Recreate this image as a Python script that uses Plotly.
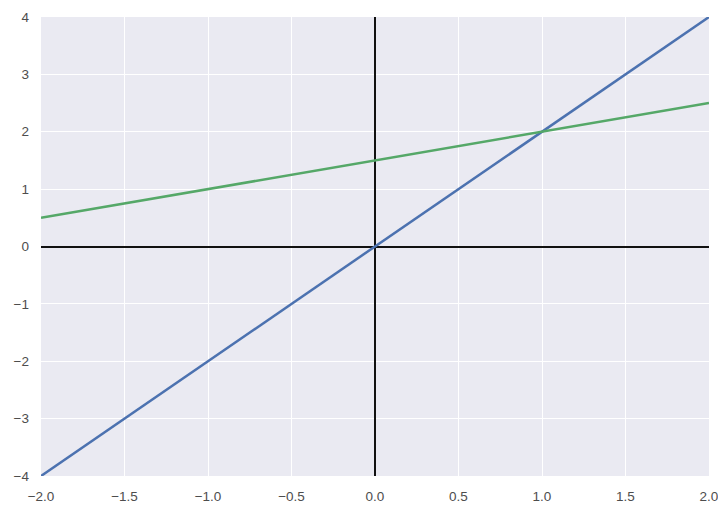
import plotly.graph_objects as go

x_vals = [-2.0, 2.0]
blue_y = [-4.0, 4.0]
green_y = [0.5, 2.5]
x_ticks = [-2.0, -1.5, -1.0, -0.5, 0.0, 0.5, 1.0, 1.5, 2.0]
x_tick_labels = ["\u22122.0", "\u22121.5", "\u22121.0", "\u22120.5", "0.0", "0.5", "1.0", "1.5", "2.0"]
y_ticks = [-4, -3, -2, -1, 0, 1, 2, 3, 4]
y_tick_labels = ["\u22124", "\u22123", "\u22122", "\u22121", "0", "1", "2", "3", "4"]

fig = go.Figure()
fig.add_trace(go.Scatter(x=x_vals, y=blue_y, mode="lines",
                         line=dict(color="#4C72B0", width=2.5), showlegend=False))
fig.add_trace(go.Scatter(x=x_vals, y=green_y, mode="lines",
                         line=dict(color="#55A868", width=2.5), showlegend=False))

# page body has an 8px margin, so the figure is sized/offset to compensate
fig.update_layout(
    width=718, height=500,
    margin=dict(l=33, r=17, t=9, b=32),
    paper_bgcolor="white",
    plot_bgcolor="#EAEAF2",
    font=dict(family="Liberation Sans, Arial", size=13.5, color="#4d4d4d"),
    xaxis=dict(range=[-2, 2], tickvals=x_ticks, ticktext=x_tick_labels,
               showgrid=True, gridcolor="white", gridwidth=1.3,
               zeroline=True, zerolinecolor="#111111", zerolinewidth=2.2,
               showline=False, ticks="", ticklabelstandoff=10, automargin=False),
    yaxis=dict(range=[-4, 4], tickvals=y_ticks, ticktext=y_tick_labels,
               showgrid=True, gridcolor="white", gridwidth=1.3,
               zeroline=True, zerolinecolor="#111111", zerolinewidth=2.2,
               showline=False, ticks="", ticklabelstandoff=11, automargin=False),
)

fig.write_html("out.html")
